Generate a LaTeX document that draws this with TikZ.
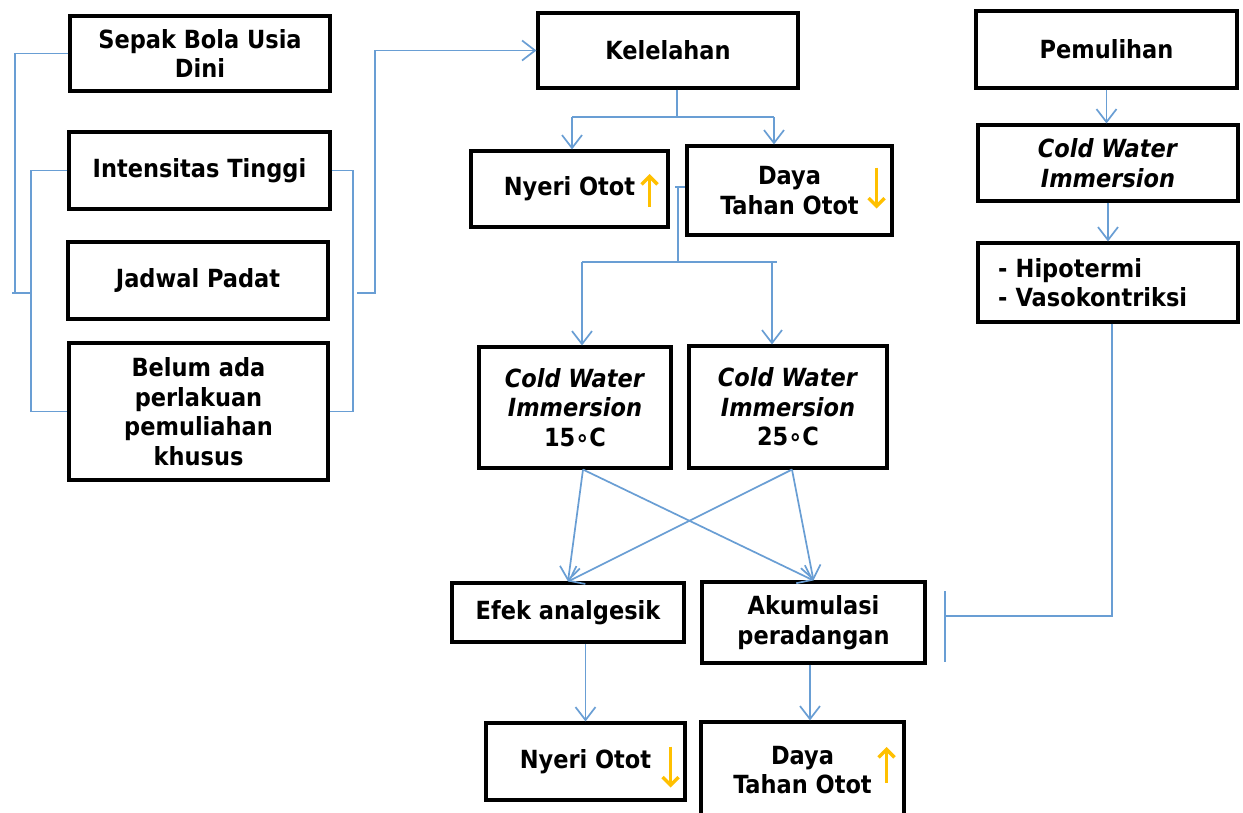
\documentclass[tikz,border=0pt]{standalone}
\usepackage{fontspec}
\setmainfont{DejaVu Sans Condensed}
\usetikzlibrary{arrows.meta,calc}
\definecolor{conblue}{RGB}{105,158,212}
\definecolor{amber}{RGB}{255,192,0}
\begin{document}
\begin{tikzpicture}[x=1pt,y=-1pt,
  box/.style={draw=black, line width=3.1pt, fill=white, inner sep=0pt, align=center,
    font=\bfseries\fontsize{25}{29.5}\selectfont},
  con/.style={draw=conblue, line width=1.7pt},
  arr/.style={con, -{Straight Barb[length=13pt,width=20pt]}},
  yar/.style={draw=amber, line width=3.4pt, -{Straight Barb[length=8pt,width=16pt]}}]
\useasboundingbox (0,0) rectangle (1243,812);
\clip (0,0) rectangle (1243,812);
\fill[white] (0,0) rectangle (1243,812);

% left column
\node[box, minimum width=260pt, minimum height=75pt] (sepak) at (200,53.5) {Sepak Bola Usia\\Dini};
\node[box, minimum width=261pt, minimum height=77pt] (intens) at (199.5,170.5) {Intensitas Tinggi};
\node[box, minimum width=260pt, minimum height=77pt] (jadwal) at (198,280.5) {Jadwal Padat};
\node[box, minimum width=259pt, minimum height=137pt] (belum) at (198.5,411.5) {Belum ada\\perlakuan\\pemuliahan\\khusus};

% middle column
\node[box, minimum width=260pt, minimum height=75pt] (kel) at (668,50.5) {Kelelahan};
\node[box, minimum width=197pt, minimum height=76pt] (ny1) at (569.5,189) {Nyeri Otot};
\node[box, minimum width=205pt, minimum height=89pt] (da1) at (789.5,190.5) {Daya\\Tahan Otot};
\node[box, minimum width=192pt, minimum height=121pt] (cw15) at (575,407.5) {\textit{Cold Water}\\\textit{Immersion}\\15∘C};
\node[box, minimum width=198pt, minimum height=122pt] (cw25) at (788,407) {\textit{Cold Water}\\\textit{Immersion}\\25∘C};
\node[box, minimum width=232pt, minimum height=59pt] (ef) at (568,612.5) {Efek analgesik};
\node[box, minimum width=223pt, minimum height=81pt] (ak) at (813.5,622.5) {Akumulasi\\peradangan};
\node[box, minimum width=199pt, minimum height=77pt] (ny2) at (585.5,761.5) {Nyeri Otot};
\node[box, minimum width=203pt, minimum height=96pt] (da2) at (802.5,770) {Daya\\Tahan Otot};

% right column
\node[box, minimum width=261pt, minimum height=77pt] (pem) at (1106.5,49.5) {Pemulihan};
\node[box, minimum width=260pt, minimum height=76pt] (cwr) at (1108,163) {\textit{Cold Water}\\\textit{Immersion}};
\node[box, minimum width=260pt, minimum height=79pt, text width=220pt, inner xsep=20pt, align=left] (hip) at (1108,282.5) {- Hipotermi\\- Vasokontriksi};

% left brackets
\coordinate (L0) at (12,293);
\coordinate (L1) at (15,293);
\coordinate (L2) at (31,293);
\draw[con] (sepak.west) -| (L1);
\draw[con] (intens.west) -| (L2) |- (belum.west);
\draw[con] (L0) -- (L2);

% right bracket to Kelelahan
\coordinate (R1) at (353,293);
\coordinate (R2) at (357,293);
\coordinate (R3) at (375,293);
\draw[con] (intens.east) -| (R1) |- (belum.east);
\draw[arr] (R2) -- (R3) |- (kel.west);

% Kelelahan split
\coordinate (K1) at (677,117);
\coordinate (K1l) at (572,117);
\coordinate (K1r) at (774,117);
\draw[con] (kel.south -| K1) -- (K1);
\draw[con] (K1l) -- (K1r);
\draw[arr] (K1l) -- (K1l |- ny1.north);
\draw[arr] (K1r) -- (K1r |- da1.north);

% T connector to CWI
\coordinate (T0) at (675,187);
\coordinate (T1) at (678,187);
\coordinate (T2) at (678,262);
\coordinate (T2l) at (582,262);
\coordinate (T2r) at (777,262);
\coordinate (T2a) at (772,262);
\draw[con] (T0) -- (T0 -| da1.west);
\draw[con] (T1) -- (T2);
\draw[con] (T2l) -- (T2r);
\draw[arr] (T2l) -- (T2l |- cw15.north);
\draw[arr] (T2a) -- (T2a |- cw25.north);

% crossing
\coordinate (C15) at ($(cw15.south)+(8,0)$);
\coordinate (C25) at ($(cw25.south)+(4,0)$);
\draw[arr] (C15) -- (ef.north);
\draw[arr] (C25) -- (ef.north);
\draw[arr] (C15) -- (ak.north);
\draw[arr] (C25) -- (ak.north);

% to results
\coordinate (A1) at (810,0);
\draw[arr] (ny2.north |- ef.south) -- (ny2.north);
\draw[arr] (ak.south -| A1) -- (A1 |- da2.north);

% right column
\draw[arr] (pem.south) -- (pem.south |- cwr.north);
\draw[arr] (cwr.south) -- (cwr.south |- hip.north);
\coordinate (H1) at (1112,616);
\coordinate (H2) at (945,616);
\coordinate (H3) at (945,591);
\coordinate (H4) at (945,662);
\draw[con] (hip.south -| H1) -- (H1) -- (H2);
\draw[con] (H3) -- (H4);

% yellow indicator arrows
\draw[yar] ($(ny1.east)+(-20,18)$) -- ++(0,-33);
\draw[yar] ($(da1.east)+(-17,-23)$) -- ++(0,41);
\draw[yar] ($(ny2.east)+(-16,-15)$) -- ++(0,41);
\draw[yar] ($(da2.east)+(-19,13)$) -- ++(0,-36);
\end{tikzpicture}
\end{document}
